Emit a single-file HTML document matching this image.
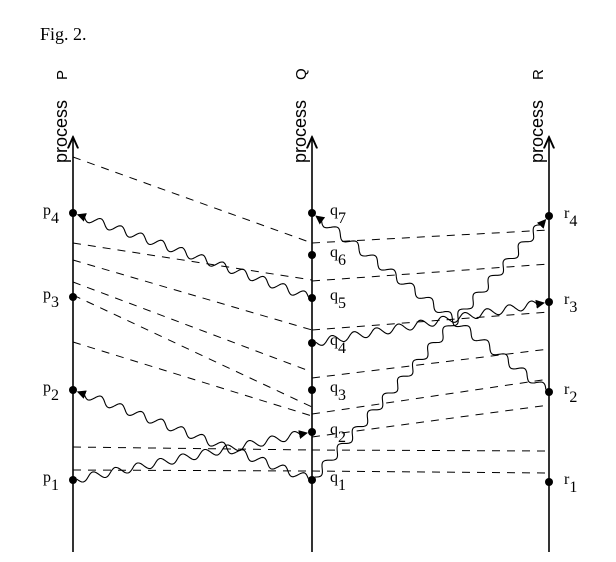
<!DOCTYPE html>
<html><head><meta charset="utf-8"><style>
html,body{margin:0;padding:0;background:#fff;}
svg{display:block;font-family:"Liberation Serif",serif;}
</style></head><body>
<svg width="616" height="562" viewBox="0 0 616 562" xmlns="http://www.w3.org/2000/svg">
<defs>
<marker id="ah" viewBox="0 0 10 10" refX="9" refY="5" markerWidth="9" markerHeight="9" markerUnits="userSpaceOnUse" orient="auto"><path d="M0,0 L10,5 L0,10 z" fill="#000"/></marker>
<marker id="ax" viewBox="0 0 10 10" refX="9" refY="5" markerWidth="8" markerHeight="8" orient="auto"><path d="M0,1 L9,5 L0,9" fill="none" stroke="#000" stroke-width="1.5"/></marker>
</defs>
<text x="40" y="40" font-size="18">Fig. 2.</text>
<g id="procs"></g>
<g id="dashed"></g>
<g id="msgs"></g>
<g id="events"></g>
</svg>
<script>
const processNames = ["P","Q","R"];
const processX = [73, 312, 549];
const eventLabels = [["p","1"],["p","2"],["p","3"],["p","4"],["q","1"],["q","2"],["q","3"],["q","4"],["q","5"],["q","6"],["q","7"],["r","1"],["r","2"],["r","3"],["r","4"]];
const eventProc = [0,0,0,0,1,1,1,1,1,1,1,2,2,2,2];
const eventY = [480,390,297,213,480,432,390,343,298,255,213,482,392,302,216];
const msgFrom = [0,4,4,7,12,8];
const msgTo = [5,1,14,13,10,3];
const tickP = [157,243,260,282,295,342,447,470];
const tickQfromP = [243,280,330,372,407,416,450,471];
const tickQ = [243,281,330,378,414,437];
const tickRfromQ = [230,264,312,349,379,405];
const horizR = [451,473];

const NS="http://www.w3.org/2000/svg";
function mk(tag,attrs,parent){const e=document.createElementNS(NS,tag);for(const k in attrs)e.setAttribute(k,attrs[k]);parent.appendChild(e);return e;}
const procs=document.getElementById('procs');
processNames.forEach((n,i)=>{
  const x=processX[i];
  const l=mk('line',{x1:x,y1:552,x2:x,y2:137,stroke:'#000','stroke-width':1.6,'marker-end':'url(#ax)'},procs);
  
  
  const t=mk('text',{x:0,y:0,'font-size':18,'font-family':'Liberation Sans, sans-serif',transform:`translate(${x-6},163) rotate(-90)`},procs);
  t.textContent='process';
  
  
  const t2=mk('text',{x:0,y:0,'font-size':15,'font-family':'Liberation Sans, sans-serif',transform:`translate(${x-6},80) rotate(-90)`},procs);
  t2.textContent=n;
  
  
});
const dashed=document.getElementById('dashed');
tickP.forEach((y,i)=>{
  const l=mk('line',{x1:processX[0],y1:y,x2:processX[1],y2:tickQfromP[i],stroke:'#000','stroke-width':1,'stroke-dasharray':'8,7'},dashed);
  
  
});
tickQ.forEach((y,i)=>{
  const l=mk('line',{x1:processX[1],y1:y,x2:processX[2],y2:tickRfromQ[i],stroke:'#000','stroke-width':1,'stroke-dasharray':'8,7'},dashed);
  
  
});
horizR.forEach((y,i)=>{
  const l=mk('line',{x1:processX[1],y1:tickQfromP[6+i],x2:processX[2],y2:y,stroke:'#000','stroke-width':1,'stroke-dasharray':'8,7'},dashed);
  
  
});
const msgs=document.getElementById('msgs');
msgFrom.forEach((f,i)=>{
  const t=msgTo[i];
  const x1=processX[eventProc[f]],y1=eventY[f],x2=processX[eventProc[t]],y2=eventY[t];
  const dx=x2-x1,dy=y2-y1,L=Math.hypot(dx,dy);
  const sx=x1+dx*4/L,sy=y1+dy*4/L,ex=x2-dx*12/L,ey=y2-dy*12/L;
  const nx=-dy/L,ny=dx/L;const N=Math.max(1,Math.round(L/24));let d=`M${sx},${sy}`;
  const S=N*16;
  for(let k=1;k<=S;k++){const s=k/S;const a=Math.sin(s*N*2*Math.PI)*4;const px=sx+(ex-sx)*s+nx*a,py=sy+(ey-sy)*s+ny*a;d+=` L${px.toFixed(1)},${py.toFixed(1)}`;}
  const p=mk('path',{d:d,fill:'none',stroke:'#000','stroke-width':1.1,'stroke-linejoin':'round'},msgs);
  
  
  const h=mk('line',{x1:ex,y1:ey,x2:ex+dx*7/L,y2:ey+dy*7/L,stroke:'#000','stroke-width':1,'marker-end':'url(#ah)'},msgs);
  
  
});
const ev=document.getElementById('events');
eventY.forEach((y,i)=>{
  const p=eventProc[i],x=processX[p];
  const c=mk('circle',{cx:x,cy:y,r:4,fill:'#000'},ev);
  
  
  const lx=p===0?x-30:(p===1?x+18:x+15);
  const t=mk('text',{x:lx,y:y+2,'font-size':16},ev);
  t.innerHTML=eventLabels[i][0]+'<tspan dy="8" font-size="16">'+eventLabels[i][1]+'</tspan>';
  
  
});
</script>
</body></html>
